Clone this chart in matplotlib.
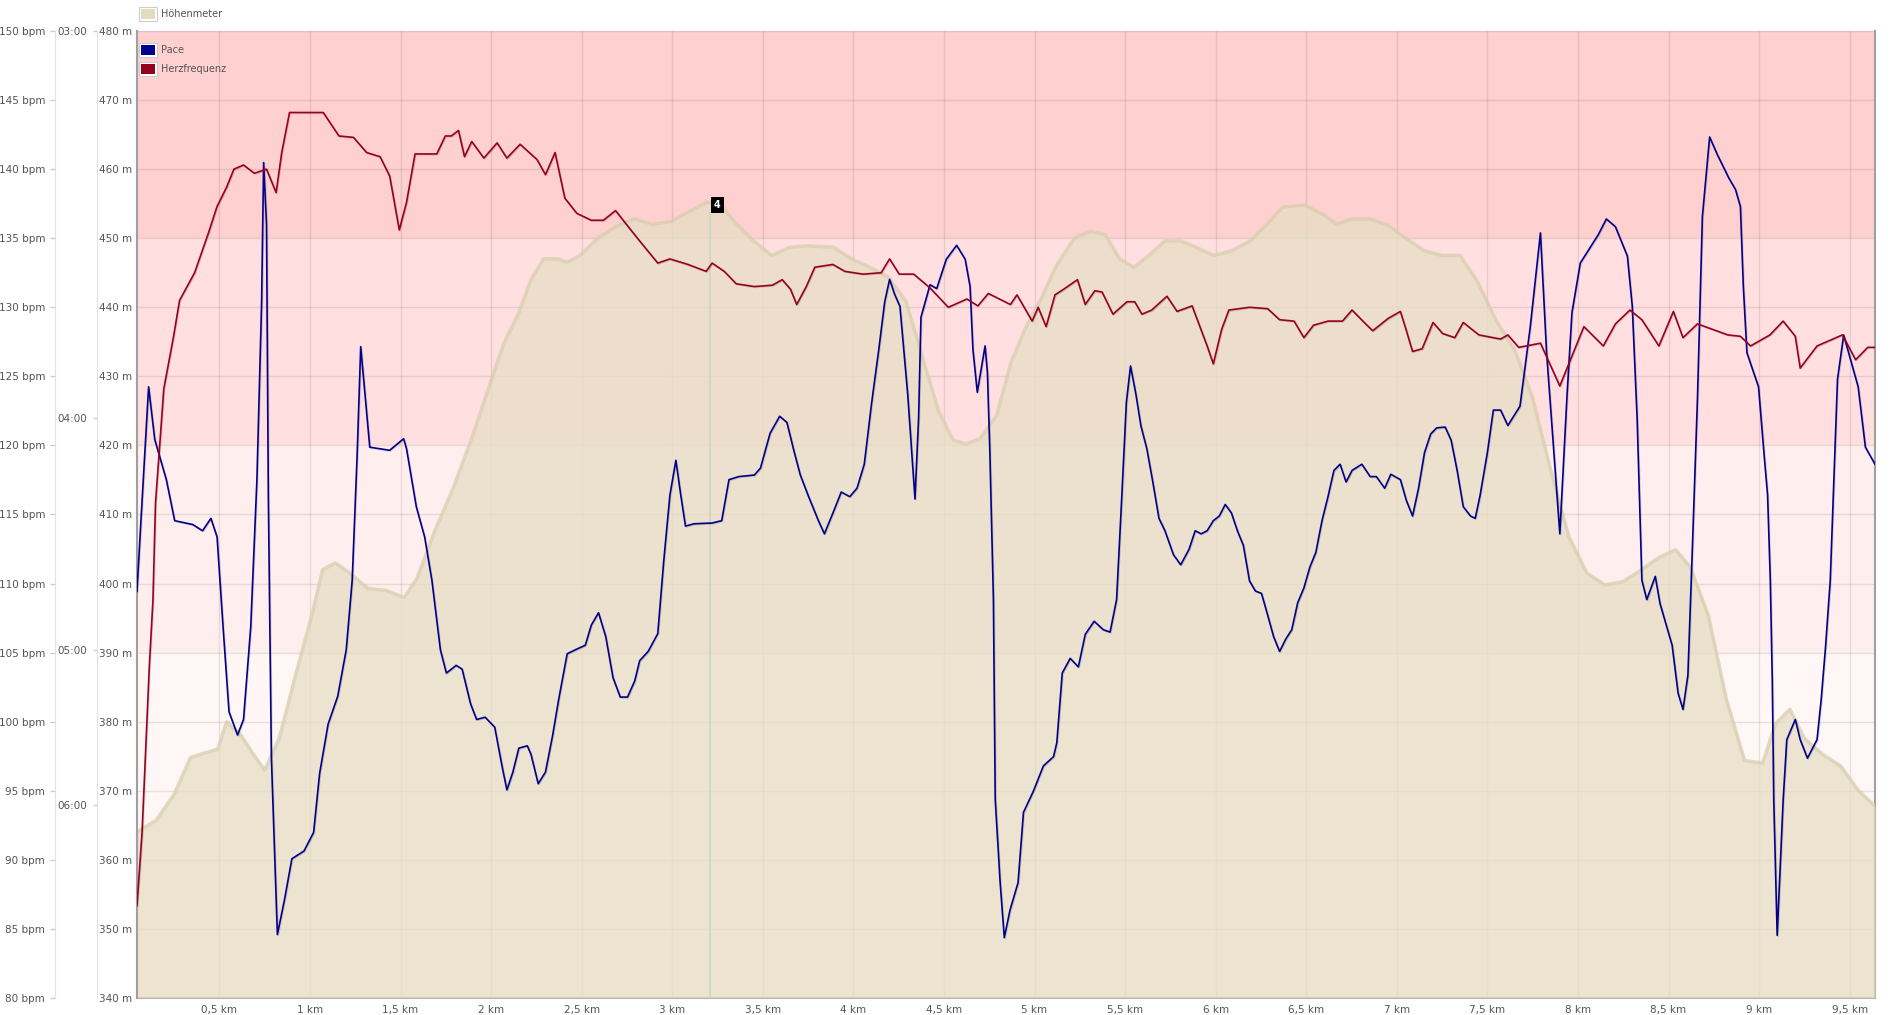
import matplotlib
matplotlib.use("Agg")
import matplotlib.pyplot as plt
import matplotlib.patheffects as pe
from matplotlib.patches import Rectangle

W, H = 1893, 1015

# heart rate zones (bpm) drawn as background bands
zone_bpm = [80, 105, 120, 135, 150]
zone_colors = ["#fff6f6", "#ffeeee", "#ffdfdf", "#ffd0d0"]

# elevation profile
el_km = [0.04, 0.15, 0.25, 0.34, 0.42, 0.49, 0.54, 0.62, 0.70, 0.75,
         0.83, 0.92, 1.01, 1.07, 1.14, 1.22, 1.32, 1.42, 1.52, 1.59,
         1.69, 1.79, 1.89, 1.99, 2.07, 2.15, 2.22, 2.29, 2.37, 2.42,
         2.49, 2.59, 2.69, 2.79, 2.89, 2.99, 3.09, 3.19, 3.26, 3.35,
         3.45, 3.55, 3.65, 3.75, 3.89, 3.99, 4.09, 4.19, 4.29, 4.39,
         4.47, 4.55, 4.62, 4.70, 4.79, 4.87, 4.95, 5.03, 5.12, 5.22,
         5.31, 5.39, 5.47, 5.55, 5.63, 5.72, 5.81, 5.89, 5.99, 6.09,
         6.19, 6.29, 6.37, 6.49, 6.59, 6.67, 6.75, 6.85, 6.95, 7.05,
         7.15, 7.25, 7.35, 7.45, 7.55, 7.65, 7.75, 7.85, 7.95, 8.05,
         8.15, 8.25, 8.35, 8.45, 8.54, 8.62, 8.72, 8.82, 8.92, 9.02,
         9.09, 9.17, 9.25, 9.35, 9.45, 9.55, 9.64]
el_m = [364, 365.7, 369.5, 374.8, 375.5, 376, 380, 378, 374.8, 373,
        377.6, 386.7, 395.4, 402, 403, 401.5, 399.3, 399, 398, 400.7,
        407.7, 413.8, 420.8, 428.6, 434.8, 439, 444, 447, 447, 446.5,
        447.5, 450, 451.7, 452.8, 452, 452.4, 453.8, 455.2, 455, 452.2,
        449.6, 447.5, 448.7, 448.9, 448.7, 447, 445.8, 444.4, 440.9, 432,
        425, 420.8, 420.2, 421, 424.3, 432, 437, 440.9, 446, 450,
        451, 450.5, 447, 445.8, 447.5, 449.6, 449.6, 448.7, 447.5, 448.2,
        449.6, 452.2, 454.5, 454.8, 453.5, 452, 452.8, 452.8, 451.9, 450,
        448.2, 447.5, 447.5, 443.5, 438, 433.9, 426.9, 416.4, 406.8, 401.5,
        399.8, 400.3, 402, 403.8, 404.9, 402.4, 395.4, 383.2, 374.4, 374,
        379.7, 381.8, 377.6, 375.3, 373.6, 370, 367.8]

# heart rate
hr_km = [0.045, 0.073, 0.113, 0.133, 0.147, 0.193, 0.247, 0.28, 0.363, 0.44,
         0.487, 0.54, 0.58, 0.633, 0.693, 0.76, 0.813, 0.844, 0.887, 1.073,
         1.16, 1.24, 1.313, 1.387, 1.44, 1.493, 1.533, 1.58, 1.70, 1.747,
         1.78, 1.82, 1.853, 1.893, 1.96, 2.033, 2.087, 2.16, 2.253, 2.30,
         2.353, 2.407, 2.473, 2.553, 2.62, 2.687, 2.753, 2.82, 2.92, 2.987,
         3.087, 3.187, 3.22, 3.287, 3.353, 3.453, 3.553, 3.607, 3.653, 3.687,
         3.74, 3.787, 3.887, 3.953, 4.053, 4.153, 4.20, 4.253, 4.333, 4.423,
         4.524, 4.627, 4.687, 4.745, 4.867, 4.903, 4.987, 5.02, 5.064, 5.113,
         5.16, 5.237, 5.28, 5.333, 5.373, 5.433, 5.51, 5.553, 5.593, 5.647,
         5.731, 5.787, 5.87, 5.913, 5.953, 5.987, 6.033, 6.073, 6.187, 6.287,
         6.353, 6.433, 6.487, 6.54, 6.62, 6.70, 6.753, 6.82, 6.867, 6.953,
         7.02, 7.053, 7.087, 7.14, 7.20, 7.253, 7.32, 7.367, 7.453, 7.573,
         7.613, 7.673, 7.793, 7.90, 8.033, 8.14, 8.207, 8.287, 8.353, 8.447,
         8.527, 8.58, 8.66, 8.827, 8.897, 8.953, 9.06, 9.133, 9.20, 9.227,
         9.32, 9.46, 9.533, 9.60, 9.64]
hr_bpm = [86.7, 92, 104, 108.8, 115.8, 124.1, 127.9, 130.5, 132.5, 135.4,
          137.3, 138.7, 140, 140.3, 139.7, 140, 138.3, 141.2, 144.1, 144.1,
          142.4, 142.3, 141.2, 140.9, 139.5, 135.6, 137.6, 141.1, 141.1, 142.4,
          142.4, 142.8, 140.9, 142, 140.8, 141.9, 140.8, 141.8, 140.7, 139.6,
          141.2, 137.9, 136.8, 136.3, 136.3, 137, 135.9, 134.8, 133.2, 133.5,
          133.1, 132.6, 133.2, 132.6, 131.7, 131.5, 131.6, 132, 131.3, 130.2,
          131.5, 132.9, 133.1, 132.6, 132.4, 132.5, 133.5, 132.4, 132.4, 131.4,
          130, 130.6, 130.1, 131, 130.2, 130.9, 129, 130, 128.6, 130.9,
          131.3, 132, 130.2, 131.2, 131.1, 129.5, 130.4, 130.4, 129.5, 129.8,
          130.8, 129.7, 130.1, 128.6, 127.2, 125.9, 128.4, 129.8, 130, 129.9,
          129.1, 129, 127.8, 128.7, 129, 129, 129.8, 128.9, 128.3, 129.2,
          129.7, 128.3, 126.8, 127, 128.9, 128.1, 127.8, 128.9, 128, 127.7,
          128, 127.1, 127.4, 124.3, 128.6, 127.2, 128.8, 129.8, 129.1, 127.2,
          129.7, 127.8, 128.8, 128, 127.9, 127.2, 128, 129, 127.9, 125.6,
          127.2, 128, 126.2, 127.1, 127.1]

# pace, stored as speed in km/h (axis is labelled in min/km)
pace_km = [0.045, 0.067, 0.109, 0.143, 0.207, 0.253, 0.353, 0.407, 0.453, 0.487,
           0.52, 0.553, 0.60, 0.633, 0.673, 0.707, 0.733, 0.744, 0.76, 0.77,
           0.787, 0.82, 0.86, 0.90, 0.967, 1.02, 1.053, 1.10, 1.153, 1.20,
           1.233, 1.26, 1.28, 1.33, 1.44, 1.517, 1.533, 1.587, 1.633, 1.673,
           1.72, 1.753, 1.807, 1.84, 1.887, 1.92, 1.967, 2.02, 2.06, 2.087,
           2.12, 2.153, 2.20, 2.22, 2.26, 2.30, 2.34, 2.373, 2.42, 2.473,
           2.52, 2.553, 2.593, 2.633, 2.673, 2.713, 2.753, 2.793, 2.82, 2.867,
           2.92, 2.953, 2.987, 3.02, 3.047, 3.073, 3.12, 3.22, 3.273, 3.313,
           3.367, 3.453, 3.487, 3.54, 3.593, 3.633, 3.673, 3.707, 3.753, 3.807,
           3.84, 3.887, 3.933, 3.98, 4.02, 4.06, 4.10, 4.14, 4.173, 4.20,
           4.227, 4.257, 4.30, 4.34, 4.36, 4.373, 4.423, 4.46, 4.513, 4.57,
           4.617, 4.644, 4.66, 4.684, 4.727, 4.74, 4.753, 4.773, 4.783, 4.81,
           4.833, 4.865, 4.909, 4.939, 4.993, 5.049, 5.105, 5.123, 5.153, 5.197,
           5.242, 5.28, 5.329, 5.38, 5.417, 5.453, 5.48, 5.507, 5.53, 5.56,
           5.587, 5.62, 5.653, 5.687, 5.72, 5.767, 5.807, 5.853, 5.887, 5.92,
           5.953, 5.987, 6.02, 6.053, 6.087, 6.12, 6.153, 6.187, 6.22, 6.253,
           6.287, 6.32, 6.353, 6.387, 6.42, 6.453, 6.487, 6.52, 6.553, 6.587,
           6.62, 6.653, 6.687, 6.72, 6.753, 6.807, 6.853, 6.887, 6.933, 6.967,
           7.02, 7.053, 7.087, 7.12, 7.153, 7.187, 7.22, 7.267, 7.30, 7.333,
           7.367, 7.407, 7.433, 7.46, 7.50, 7.533, 7.573, 7.613, 7.68, 7.737,
           7.793, 7.827, 7.867, 7.90, 7.94, 7.967, 8.013, 8.067, 8.113, 8.157,
           8.207, 8.273, 8.30, 8.327, 8.353, 8.38, 8.427, 8.453, 8.52, 8.553,
           8.58, 8.607, 8.633, 8.66, 8.687, 8.727, 8.77, 8.833, 8.87, 8.897,
           8.913, 8.933, 8.997, 9.025, 9.047, 9.062, 9.073, 9.081, 9.10, 9.133,
           9.153, 9.20, 9.227, 9.267, 9.32, 9.343, 9.367, 9.393, 9.413, 9.433,
           9.467, 9.547, 9.587, 9.64]
speed_kmh = [12.76, 13.68, 15.4, 14.72, 14.2, 13.67, 13.62, 13.54, 13.7, 13.46,
             12.3, 11.2, 10.9, 11.1, 12.3, 14.2, 16.5, 18.3, 17.5, 14.0,
             10.6, 8.32, 8.78, 9.3, 9.4, 9.64, 10.4, 11.04, 11.4, 12.0,
             12.9, 14.5, 15.92, 14.62, 14.58, 14.73, 14.6, 13.85, 13.46, 12.9,
             12.0, 11.7, 11.8, 11.75, 11.3, 11.1, 11.13, 11.0, 10.5, 10.19,
             10.42, 10.73, 10.76, 10.65, 10.27, 10.42, 10.9, 11.36, 11.95, 12.01,
             12.06, 12.32, 12.48, 12.17, 11.64, 11.39, 11.39, 11.6, 11.86, 11.98,
             12.21, 13.15, 14.0, 14.45, 14.0, 13.6, 13.63, 13.64, 13.67, 14.2,
             14.24, 14.26, 14.35, 14.8, 15.02, 14.94, 14.56, 14.26, 13.98, 13.67,
             13.5, 13.77, 14.04, 13.98, 14.09, 14.4, 15.18, 15.88, 16.5, 16.79,
             16.6, 16.44, 15.3, 13.95, 15.0, 16.3, 16.72, 16.67, 17.05, 17.23,
             17.05, 16.7, 15.88, 15.33, 15.93, 15.58, 14.59, 12.65, 10.07, 9.0,
             8.28, 8.64, 8.99, 9.9, 10.17, 10.5, 10.62, 10.8, 11.7, 11.89,
             11.78, 12.2, 12.37, 12.26, 12.23, 12.65, 13.9, 15.2, 15.67, 15.3,
             14.9, 14.6, 14.17, 13.7, 13.54, 13.23, 13.1, 13.3, 13.54, 13.5,
             13.54, 13.67, 13.73, 13.88, 13.77, 13.54, 13.35, 12.89, 12.76, 12.73,
             12.45, 12.17, 11.98, 12.14, 12.26, 12.61, 12.8, 13.07, 13.26, 13.67,
             13.98, 14.32, 14.4, 14.17, 14.32, 14.4, 14.24, 14.24, 14.09, 14.27,
             14.2, 13.93, 13.73, 14.09, 14.55, 14.79, 14.87, 14.88, 14.71, 14.32,
             13.85, 13.73, 13.7, 14.0, 14.55, 15.1, 15.1, 14.9, 15.15, 16.18,
             17.39, 15.84, 14.55, 13.5, 15.3, 16.36, 17.0, 17.2, 17.37, 17.57,
             17.47, 17.09, 16.44, 14.98, 12.9, 12.65, 12.95, 12.6, 12.06, 11.44,
             11.23, 11.67, 13.4, 15.26, 17.6, 18.63, 18.4, 18.1, 17.95, 17.73,
             16.7, 15.84, 15.4, 14.6, 14.0, 12.9, 11.6, 10.06, 8.31, 10.06,
             10.84, 11.1, 10.84, 10.6, 10.84, 11.36, 12.04, 12.9, 14.2, 15.5,
             16.07, 15.4, 14.62, 14.4]

bpm_ticks = list(range(80, 151, 5))
m_ticks = list(range(340, 481, 10))
pace_labels = ["03:00", "04:00", "05:00", "06:00"]
km_ticks = [i * 0.5 for i in range(1, 20)]

marker_km = 3.21
marker_m = 453.8
marker_label = "4"

legend_items = [("Höhenmeter", "#e4dcbe", 7), ("Pace", "#00008c", 43), ("Herzfrequenz", "#96001e", 62)]

txt = "#545454"
fig = plt.figure(figsize=(W / 100, H / 100), dpi=100)
ax_hr = fig.add_axes([137 / W, 17 / H, 1738 / W, 967 / H])
ax_hr.set_xlim(0.045, 9.64)
ax_hr.set_ylim(80, 150)
for lo, hi, c in zip(zone_bpm[:-1], zone_bpm[1:], zone_colors):
    ax_hr.axhspan(lo, hi, color=c, lw=0, zorder=0)
ax_hr.set_xticks(km_ticks)
ax_hr.set_xticklabels([("%g" % k).replace(".", ",") + " km" for k in km_ticks])
ax_hr.set_yticks(bpm_ticks)
ax_hr.set_yticklabels(["%d bpm" % b for b in bpm_ticks])
ax_hr.grid(True, color="k", alpha=0.09, lw=1)
ax_hr.spines["top"].set_visible(False)
ax_hr.spines["left"].set_position(("outward", 59))
ax_hr.spines["left"].set_color("#e2e2e2")
for s in ("bottom", "right"):
    ax_hr.spines[s].set_color("#a0a0a0")
    ax_hr.spines[s].set_linewidth(1.5)
ax_hr.tick_params(axis="y", length=3.6, width=1, color="#cccccc", labelsize=7.5, labelcolor=txt, pad=3.6)
ax_hr.tick_params(axis="x", length=0, pad=5, labelsize=7.5, labelcolor=txt)

# elevation axis
ax_el = ax_hr.twinx()
ax_el.set_ylim(340, 480)
ax_el.yaxis.tick_left()
ax_el.set_yticks(m_ticks)
ax_el.set_yticklabels(["%d m" % m for m in m_ticks])
for s in ("top", "right", "bottom"):
    ax_el.spines[s].set_visible(False)
ax_el.spines["left"].set_color("#a0a0a0")
ax_el.spines["left"].set_linewidth(1.5)
ax_el.tick_params(axis="y", length=0, pad=3.6, labelsize=7.5, labelcolor=txt)
ax_el.fill_between(el_km, el_m, 340, color="#e6dec4", alpha=0.76, lw=0)
ax_el.plot(el_km, el_m, color="#d8ceaf", lw=2.5, alpha=0.75)
ax_el.vlines(marker_km, 340, marker_m, color="#cdd6c2", lw=1.2)
ax_el.text(marker_km + 0.039, marker_m + 1.0, marker_label, color="white", fontsize=7,
           fontweight="bold", ha="center", va="center",
           bbox=dict(boxstyle="square,pad=0.3", fc="black", ec="none"))

# pace axis (speed scale, labelled as min/km)
ax_pace = ax_hr.twinx()
ax_pace.set_ylim(7.5, 20)
ax_pace.yaxis.tick_left()
pace_pos = [3600.0 / (int(p[:2]) * 60 + int(p[3:])) for p in pace_labels]
ax_pace.set_yticks(pace_pos)
ax_pace.set_yticklabels(pace_labels)
for s in ("top", "right", "bottom"):
    ax_pace.spines[s].set_visible(False)
ax_pace.spines["left"].set_position(("outward", 29))
ax_pace.spines["left"].set_color("#e2e2e2")
ax_pace.tick_params(axis="y", length=2.9, width=1, color="#cccccc", labelsize=7.5, labelcolor=txt, pad=4.3)

shadow = [pe.SimpleLineShadow(offset=(0.6, -0.6), alpha=0.15), pe.Normal()]
ax_pace.plot(pace_km, speed_kmh, color="#00008c", lw=1.2, path_effects=shadow)
ax_pace.plot(hr_km, hr_bpm, color="#99001f", lw=1.2, transform=ax_hr.transData, path_effects=shadow)

# legend
for label, col, y in legend_items:
    fig.add_artist(Rectangle((139 / W, 1 - (y + 14) / H), 18 / W, 14 / H, transform=fig.transFigure,
                             fc="white", ec="#cccccc", lw=0.8))
    fig.add_artist(Rectangle((141 / W, 1 - (y + 12) / H), 14 / W, 10 / H, transform=fig.transFigure,
                             fc=col, ec="none"))
    fig.text(161 / W, 1 - (y + 7) / H, label, fontsize=7, color=txt, va="center", ha="left")

fig.savefig("out.png", dpi=100)
